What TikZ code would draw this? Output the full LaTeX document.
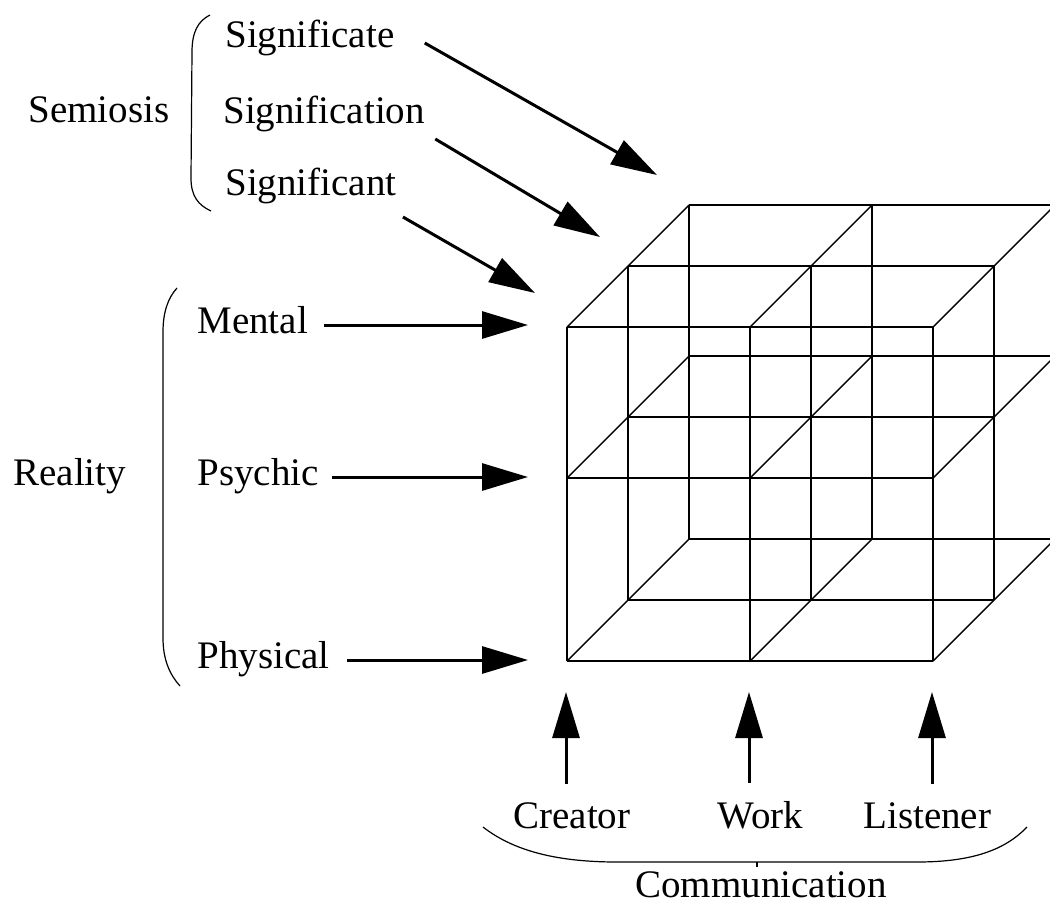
\documentclass[tikz,border=0pt]{standalone}
\usepackage{fontspec}
\setmainfont{Liberation Serif}
\usetikzlibrary{arrows.meta}
\tikzset{
  lab/.style={inner sep=0pt, anchor=base west, font=\fontsize{19.5pt}{23pt}\selectfont},
  arr/.style={-{Triangle[length=23pt, width=13.5pt]}, line width=1.5pt},
  edge/.style={line width=1pt},
  deep/.style={line width=0.7pt},
  brk/.style={line width=0.6pt}
}

\begin{document}
\begin{tikzpicture}[x=0.5pt, y=-0.5pt]
		\useasboundingbox (0,0) rectangle (1050,906);
		\clip (0,0) rectangle (1050,906);
		% cube: three layers, each step goes back by (61,-61)
		\foreach \d in {0,1,2}{
			\begin{scope}[shift={(61*\d,-61*\d)}]
				\foreach \y in {327,478,661} \draw[edge] (567,\y) -- (933,\y);
				\foreach \x in {567,750,933} \draw[edge] (\x,327) -- (\x,661);
			\end{scope}
		}
		\foreach \x in {567,750,933}
			\foreach \y in {327,478,661} \draw[deep] (\x,\y) -- ++(122,-122);
		% labels
		\node[lab] (semio) at (28,122) {Semiosis};
		\node[lab] (sgte) at (225,47) {Significate};
		\node[lab] (sgtn) at (223,123) {Signification};
		\node[lab] (sgnt) at (225,195) {Significant};
		\node[lab] (real) at (13,485) {Reality};
		\node[lab] (ment) at (197,333) {Mental};
		\node[lab] (psy) at (197,485) {Psychic};
		\node[lab] (phys) at (197,668) {Physical};
		\node[lab] (crea) at (513,828) {Creator};
		\node[lab] (work) at (717,828) {Work};
		\node[lab] (list) at (863,828) {Listener};
		\node[lab] (comm) at (635,897) {Communication};
		% arrow tips
		\coordinate (tSgte) at (657,175);
		\coordinate (tSgtn) at (600,237);
		\coordinate (tSgnt) at (535,293);
		\coordinate (tMent) at (528,325);
		\coordinate (tPsy) at (528,477);
		\coordinate (tPhys) at (528,660);
		\coordinate (tCrea) at (566,692);
		\coordinate (tWork) at (749,692);
		\coordinate (tList) at (932,692);
		\draw[arr] ([shift={(30,-4)}]sgte.base east) -- (tSgte);
		\draw[arr] ([shift={(10,16)}]sgtn.base east) -- (tSgtn);
		\draw[arr] ([shift={(6,22)}]sgnt.base east) -- (tSgnt);
		\draw[arr] ([shift={(16,-8)}]ment.base east) -- (tMent);
		\draw[arr] ([shift={(13,-8)}]psy.base east) -- (tPsy);
		\draw[arr] ([shift={(17,-8)}]phys.base east) -- (tPhys);
		\draw[arr, shorten <=8.8pt] (tCrea |- crea.north) -- (tCrea);
		\draw[arr, shorten <=8.8pt] (tWork |- work.north) -- (tWork);
		\draw[arr, shorten <=8.8pt] (tList |- list.north) -- (tList);
		% brackets
		\draw[brk] (210,15) .. controls (198,21) and (192,32) .. (192,52) -- (191,178) .. controls (191,196) and (198,205) .. (211,211);
		\draw[brk] (177,288) .. controls (168,298) and (163,312) .. (163,332) -- (163,638) .. controls (163,660) and (170,675) .. (180,686);
		\draw[brk] (483,827) .. controls (515,852) and (560,862) .. (617,862) -- (917,862) .. controls (972,862) and (1005,850) .. (1027,827);
		\draw[brk] (757,862) -- (757,867);
	\end{tikzpicture}
\end{document}
